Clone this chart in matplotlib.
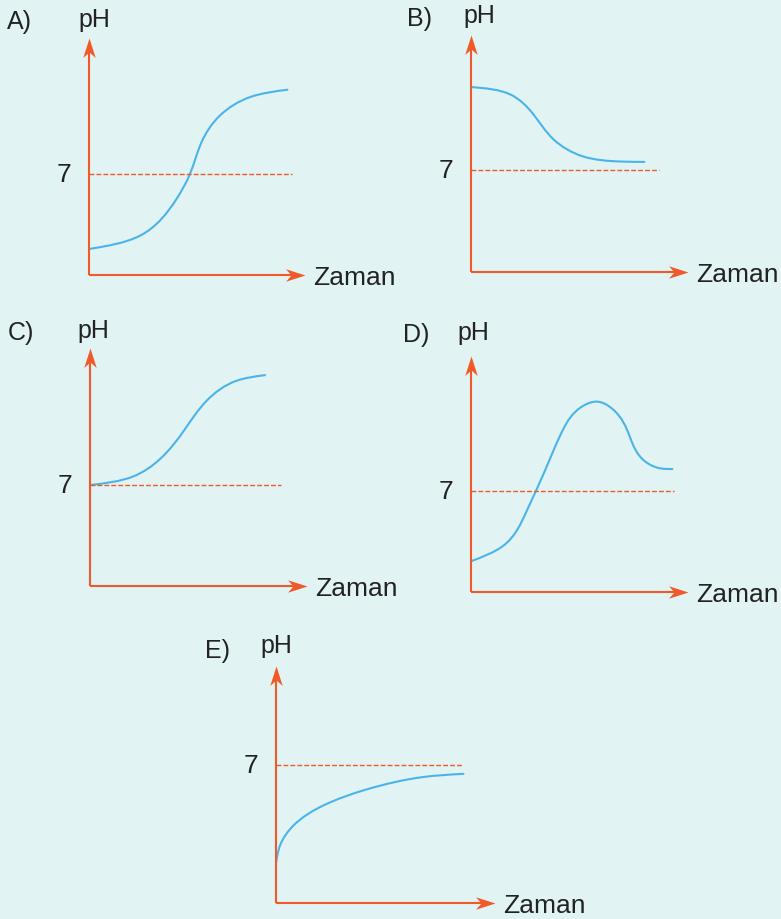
import matplotlib
matplotlib.use("Agg")
import matplotlib.pyplot as plt
import numpy as np
from matplotlib.path import Path
from matplotlib.patches import PathPatch

# --- data (time in arbitrary units, pH) ---
names = ["A)", "B)", "C)", "D)", "E)"]

tA = [0, 2.55, 4.38, 5.05, 5.63, 6.55, 8.05, 9.92]
pA = [1.80, 2.72, 5.27, 7.0, 9.20, 11.04, 12.31, 12.82]

tB = [0, 1.95, 3.12, 4.12, 5.62, 7.45, 8.67]
pB = [12.72, 12.22, 10.84, 9.13, 7.94, 7.60, 7.57]

tC = [0, 2.17, 3.5, 4.75, 5.83, 7.33, 8.75]
pC = [7.0, 7.60, 8.80, 10.88, 12.84, 14.23, 14.62]

tD = [0, 1.62, 2.79, 3.70, 4.62, 5.50, 6.29, 7.10, 7.95, 8.70, 9.45, 10.07]
pD = [2.13, 3.21, 5.63, 8.41, 11.30, 12.80, 13.19, 12.65, 10.72, 9.05, 8.57, 8.52]

tE = [0, 0.2, 0.87, 2.37, 4.53, 7.37, 9.37]
pE = [1.98, 2.91, 3.92, 4.94, 5.75, 6.38, 6.54]

curves = [(tA, pA), (tB, pB), (tC, pC), (tD, pD), (tE, pE)]
neutral = 7
dash_end = [10.15, 9.4, 9.55, 10.15, 9.35]
x_max = [10.8, 10.85, 10.85, 10.85, 10.95]
y_max = [16.4, 16.3, 16.5, 16.35, 12.0]

# --- layout in pixels: origin x, origin y, arrow tip x, arrow tip y ---
W, H = 781, 920
boxes = [(89, 276, 305, 39), (471, 273, 688, 36), (90, 587, 307, 349),
         (471, 593, 688, 357), (276, 904, 495, 667)]
letter_pos = [(7, 29), (407, 26), (8, 340), (403, 342), (205, 658)]
ph_pos = [(78, 27), (463, 23), (77, 338), (457, 340), (260, 653)]

bg = "#e1f3f3"
orange = "#f05a28"
blue = "#4ab4ea"
txt = "#222222"
plt.rcParams["font.family"] = ["Liberation Sans", "DejaVu Sans"]

up_head = Path([(0, 0), (-0.32, -1), (0, -0.72), (0.32, -1), (0, 0)],
               [Path.MOVETO, Path.LINETO, Path.LINETO, Path.LINETO, Path.CLOSEPOLY])
right_head = Path([(0, 0), (-1, 0.32), (-0.72, 0), (-1, -0.32), (0, 0)],
                  [Path.MOVETO, Path.LINETO, Path.LINETO, Path.LINETO, Path.CLOSEPOLY])


def knot_slopes(u, v):
    # derivatives at the knots of a natural cubic spline v(u)
    u = np.asarray(u, float)
    v = np.asarray(v, float)
    n = len(u)
    h = np.diff(u)
    A = np.zeros((n, n))
    r = np.zeros(n)
    A[0, 0] = A[-1, -1] = 1
    for k in range(1, n - 1):
        A[k, k - 1] = h[k - 1]
        A[k, k] = 2 * (h[k - 1] + h[k])
        A[k, k + 1] = h[k]
        r[k] = 6 * ((v[k + 1] - v[k]) / h[k] - (v[k] - v[k - 1]) / h[k - 1])
    M = np.linalg.solve(A, r)
    m = np.zeros(n)
    for k in range(n - 1):
        m[k] = (v[k + 1] - v[k]) / h[k] - h[k] * (2 * M[k] + M[k + 1]) / 6
    m[-1] = (v[-1] - v[-2]) / h[-1] + h[-1] * (M[-2] + 2 * M[-1]) / 6
    return m


def smooth_path(t, p):
    # parametric spline through the read points (chord length), drawn as beziers
    u = np.concatenate([[0], np.cumsum(np.hypot(np.diff(t), np.diff(p)))])
    mx = knot_slopes(u, t)
    my = knot_slopes(u, p)
    verts = [(t[0], p[0])]
    codes = [Path.MOVETO]
    for k in range(len(t) - 1):
        du = u[k + 1] - u[k]
        c1 = (t[k] + mx[k] * du / 3, p[k] + my[k] * du / 3)
        c2 = (t[k + 1] - mx[k + 1] * du / 3, p[k + 1] - my[k + 1] * du / 3)
        verts += [c1, c2, (t[k + 1], p[k + 1])]
        codes += [Path.CURVE4] * 3
    return Path(verts, codes)


fig = plt.figure(figsize=(W / 100, H / 100), dpi=100)
fig.patch.set_facecolor(bg)

for i in range(5):
    ox, oy, tx, ty = boxes[i]
    ax = fig.add_axes([ox / W, 1 - oy / H, (tx - ox) / W, (oy - ty) / H])
    ax.set_xlim(0, x_max[i])
    ax.set_ylim(0, y_max[i])
    ax.axis("off")

    # axes with arrows
    ax.plot([0, 0], [0, y_max[i] * 0.97], color=orange, lw=1.5, clip_on=False,
            solid_capstyle="butt")
    ax.plot([0, x_max[i] * 0.97], [0, 0], color=orange, lw=1.5, clip_on=False,
            solid_capstyle="butt")
    ax.plot([0], [y_max[i]], marker=up_head, ms=28, color=orange, mew=0, clip_on=False)
    ax.plot([x_max[i]], [0], marker=right_head, ms=28, color=orange, mew=0, clip_on=False)

    # pH 7 reference
    ax.plot([0, dash_end[i]], [neutral, neutral], color=orange, lw=1.0,
            linestyle=(0, (3.5, 1.5)), clip_on=False)
    ax.annotate("7", (0, neutral), xytext=(-18, 0), textcoords="offset pixels",
                ha="right", va="center", fontsize=19, color=txt)

    t, p = curves[i]
    ax.add_patch(PathPatch(smooth_path(t, p), facecolor="none", edgecolor=blue,
                           lw=1.5, capstyle="round", clip_on=False))

    ax.annotate("Zaman", (x_max[i], 0), xytext=(8, -9), textcoords="offset pixels",
                ha="left", va="baseline", fontsize=19, color=txt)

    lx, ly = letter_pos[i]
    fig.text(lx / W, 1 - ly / H, names[i], fontsize=18, color=txt, va="baseline")
    px, py = ph_pos[i]
    fig.text(px / W, 1 - py / H, "pH", fontsize=18, color=txt, va="baseline")

fig.savefig("out.png", dpi=100, facecolor=bg)
